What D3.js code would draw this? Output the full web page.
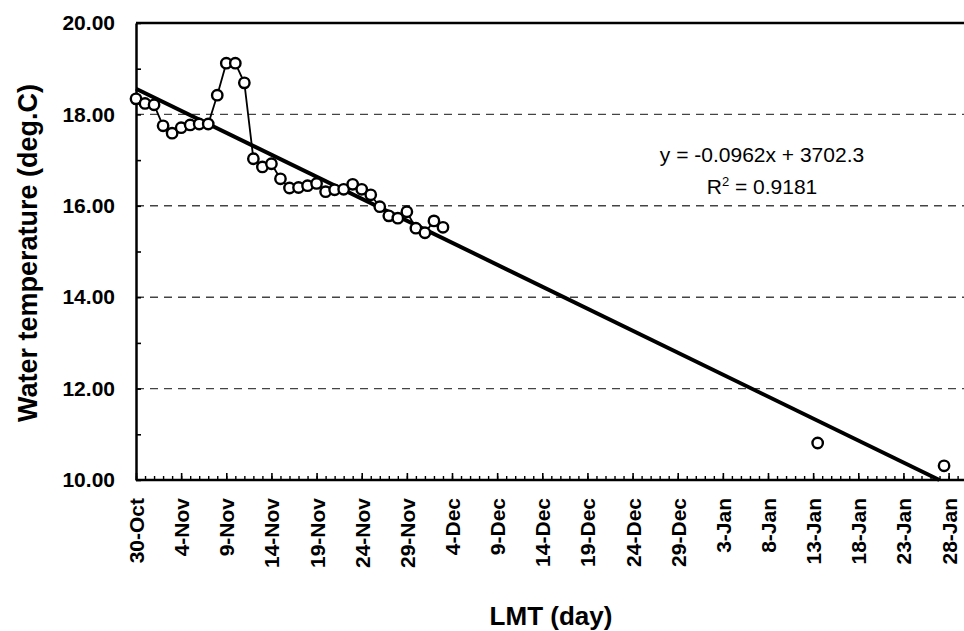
<!DOCTYPE html>
<html>
<head>
<meta charset="utf-8">
<script src="https://cdn.jsdelivr.net/npm/d3@7"></script>
<style>
  body { margin: 0; background: #fff; }
  text { font-family: "Liberation Sans", Arial, sans-serif; fill: #000; }
</style>
</head>
<body>
<div id="chart"></div>
<script>
// Daily readings, 30-Oct to 3-Dec (joined by a line).
var dates_daily  = ["2004-10-30","2004-10-31","2004-11-01","2004-11-02","2004-11-03","2004-11-04","2004-11-05",
                    "2004-11-06","2004-11-07","2004-11-08","2004-11-09","2004-11-10","2004-11-11","2004-11-12",
                    "2004-11-13","2004-11-14","2004-11-15","2004-11-16","2004-11-17","2004-11-18","2004-11-19",
                    "2004-11-20","2004-11-21","2004-11-22","2004-11-23","2004-11-24","2004-11-25","2004-11-26",
                    "2004-11-27","2004-11-28","2004-11-29","2004-11-30","2004-12-01","2004-12-02","2004-12-03"];
var temps_daily  = [18.34, 18.24, 18.21, 17.75, 17.59, 17.71, 17.77,
                    17.79, 17.79, 18.42, 19.12, 19.12, 18.69, 17.03,
                    16.85, 16.92, 16.59, 16.39, 16.40, 16.44, 16.49,
                    16.31, 16.35, 16.36, 16.47, 16.36, 16.24, 15.98,
                    15.78, 15.73, 15.87, 15.51, 15.41, 15.67, 15.53];
// Two later single readings (not joined).
var dates_late   = ["2005-01-13T12:00", "2005-01-27T12:00"];
var temps_late   = [10.81, 10.31];

// Linear trend as printed on the chart.
var trend_slope  = -0.0962;   // deg.C per day
var trend_start  = 18.56;     // value of the line at 30-Oct
var trend_text   = ["y = -0.0962x + 3702.3", "R", "2", " = 0.9181"];

var y_ticks      = [10, 12, 14, 16, 18, 20];
var y_grid       = [12, 14, 16, 18];
var x_start      = "2004-10-30";
var x_end        = "2005-01-29T17:00";
var x_last_label = "2005-01-28";

var width  = 964;
var height = 631;
var margin = { top:23, right:0, bottom:151, left:136 };

var parse = function (s) { return new Date(s + (s.length == 10 ? "T00:00Z" : "Z")); };

var svg = d3.select("#chart").append("svg")
  .attr("width" , width)
  .attr("height", height);

var x = d3.scaleUtc()
  .domain([parse(x_start), parse(x_end)])
  .range ([margin.left, width - margin.right]);
var y = d3.scaleLinear()
  .domain([10, 20])
  .range ([height - margin.bottom, margin.top]);

var plot_bottom = height - margin.bottom;

// Gridlines.
svg.selectAll(".grid").data(y_grid).enter().append("line")
  .attr("class", "grid")
  .attr("x1", margin.left)
  .attr("x2", width)
  .attr("y1", function (d) { return y(d); })
  .attr("y2", function (d) { return y(d); })
  .style("stroke", "#444")
  .style("stroke-width", 1.4)
  .style("stroke-dasharray", "8,6");

// Top border.
svg.append("line")
  .attr("x1", margin.left).attr("x2", width)
  .attr("y1", y(20)).attr("y2", y(20))
  .style("stroke", "#000").style("stroke-width", 2.5);

// X axis: a tick every day, labels every 5 days.
var days_all    = d3.utcDay.range(parse(x_start), parse(x_end));
var days_labels = d3.utcDay.range(parse(x_start), d3.utcDay.offset(parse(x_last_label), 1), 5);
var fmt = d3.utcFormat("%-d-%b");

var x_minor = svg.append("g")
  .attr("transform", "translate(0," + plot_bottom + ")")
  .call(d3.axisBottom(x).tickValues(days_all).tickSize(-4).tickFormat(""));
x_minor.select(".domain").remove();
x_minor.selectAll("line").style("stroke", "#000").style("stroke-width", 1.4);

var x_axis = svg.append("g")
  .attr("transform", "translate(0," + plot_bottom + ")")
  .call(d3.axisBottom(x).tickValues(days_labels).tickSize(-7).tickSizeOuter(0).tickFormat(fmt));
x_axis.select(".domain").style("stroke-width", 2.5).attr("d", "M" + margin.left + ",0H" + width);
x_axis.selectAll("line").style("stroke-width", 1.6);
x_axis.selectAll("text")
  .attr("transform", "rotate(-90)")
  .attr("x", -18)
  .attr("y", 0)
  .attr("dy", "0.36em")
  .style("text-anchor", "end")
  .style("font-size", "21px")
  .style("font-weight", "bold");

// Y axis.
var y_minor = svg.append("g")
  .attr("transform", "translate(" + margin.left + ",0)")
  .call(d3.axisLeft(y).ticks(10).tickSize(-5).tickFormat(""));
y_minor.select(".domain").remove();
y_minor.selectAll("line").style("stroke-width", 1.6);

var y_axis = svg.append("g")
  .attr("transform", "translate(" + margin.left + ",0)")
  .call(d3.axisLeft(y).tickValues(y_ticks).tickSize(0).tickPadding(21).tickFormat(d3.format(".2f")));
y_axis.select(".domain").style("stroke-width", 2.5);
y_axis.selectAll("text")
  .style("font-size", "21px")
  .style("font-weight", "bold");

// Trend line, clipped at the bottom of the plot.
var trend_first = parse(x_start);
var trend_last  = parse(dates_late[dates_late.length - 1]);
var trend_at = function (t) { return trend_start + trend_slope * (t - trend_first) / 864e5; };
var trend_end = d3.min([trend_last.getTime(), trend_first.getTime() + (10 - trend_start) / trend_slope * 864e5]);
svg.append("line")
  .attr("x1", x(trend_first)).attr("y1", y(trend_start))
  .attr("x2", x(new Date(trend_end))).attr("y2", y(trend_at(new Date(trend_end))))
  .style("stroke", "#000")
  .style("stroke-width", 4);

// Series.
var daily = dates_daily.map(function (d, i) { return { t:parse(d), v:temps_daily[i] }; });
var late  = dates_late.map(function (d, i) { return { t:parse(d), v:temps_late[i] }; });

svg.append("path")
  .datum(daily)
  .attr("d", d3.line().x(function (d) { return x(d.t); }).y(function (d) { return y(d.v); }))
  .style("fill", "none")
  .style("stroke", "#000")
  .style("stroke-width", 1.8);

svg.selectAll(".pt").data(daily.concat(late)).enter().append("circle")
  .attr("class", "pt")
  .attr("cx", function (d) { return x(d.t); })
  .attr("cy", function (d) { return y(d.v); })
  .attr("r", 5.2)
  .style("fill", "#fff")
  .style("stroke", "#000")
  .style("stroke-width", 2.4);

// Equation text.
svg.append("text")
  .attr("x", 762).attr("y", 162)
  .style("text-anchor", "middle")
  .style("font-size", "21px")
  .text(trend_text[0]);
var r2 = svg.append("text")
  .attr("x", 762).attr("y", 194)
  .style("text-anchor", "middle")
  .style("font-size", "21px");
r2.append("tspan").text(trend_text[1]);
r2.append("tspan").attr("dy", -8).style("font-size", "13px").text(trend_text[2]);
r2.append("tspan").attr("dy", 8).text(trend_text[3]);

// Axis titles.
svg.append("text")
  .attr("transform", "translate(37,253) rotate(-90)")
  .style("text-anchor", "middle")
  .style("font-size", "27px")
  .style("font-weight", "bold")
  .text("Water temperature (deg.C)");
svg.append("text")
  .attr("x", 551).attr("y", 625)
  .style("text-anchor", "middle")
  .style("font-size", "26px")
  .style("font-weight", "bold")
  .text("LMT (day)");
</script>
</body>
</html>
